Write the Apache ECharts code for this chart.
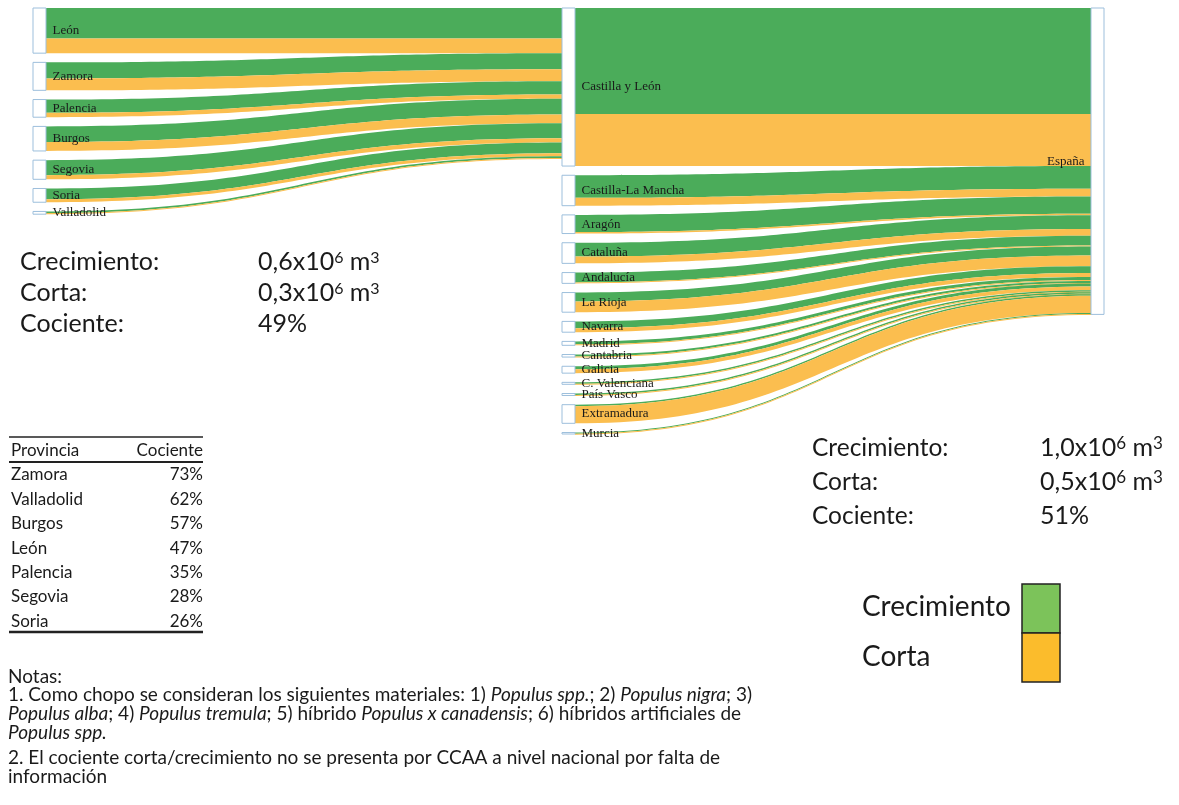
<!DOCTYPE html>
<html>
<head>
<meta charset="utf-8">
<script src="https://cdn.jsdelivr.net/npm/echarts@6/dist/echarts.min.js"></script>
<style>
  html, body { margin: 0; padding: 0; background: #fff; }
  #chart { width: 1179px; height: 805px; }
</style>
</head>
<body>
<div id="chart"></div>
<script>
// provincias de Castilla y León -> Castilla y León
const provincias = ['León', 'Zamora', 'Palencia', 'Burgos', 'Segovia', 'Soria', 'Valladolid'];
const provCrecimiento = [31, 16.5, 13.5, 16, 15.3, 11, 1.7];
const provCorta = [15, 12, 4.5, 9, 4.2, 3, 1.1];

// CCAA -> España
const ccaa = ['Castilla y León', 'Castilla-La Mancha', 'Aragón', 'Cataluña', 'Andalucía', 'La Rioja',
  'Navarra', 'Madrid', 'Cantabria', 'Galicia', 'C. Valenciana', 'País Vasco', 'Extramadura', 'Murcia'];
const ccaaCrecimiento = [108, 23, 17.5, 14, 10, 9, 7, 3, 2, 3, 1.5, 1.5, 1.5, 1.2];
const ccaaCorta = [53, 8, 1.5, 7, 1, 11, 4, 1, 0.6, 4, 0.5, 0.5, 17.5, 0.3];

// tabla de cocientes por provincia
const tablaProvincia = ['Zamora', 'Valladolid', 'Burgos', 'León', 'Palencia', 'Segovia', 'Soria'];
const tablaCociente = ['73%', '62%', '57%', '47%', '35%', '28%', '26%'];

const resumenEtiquetas = ['Crecimiento:', 'Corta:', 'Cociente:'];
const resumenCyL = ['0,6x10{s|6} m{s|3}', '0,3x10{s|6} m{s|3}', '49%'];
const resumenEspana = ['1,0x10{s|6} m{s|3}', '0,5x10{s|6} m{s|3}', '51%'];

const VERDE = '#4bac5a';
const NARANJA = '#fbbe4f';
const SANS = 'Lato, "Noto Sans", sans-serif';

const nodes = [];
provincias.forEach(p => nodes.push({ name: p, depth: 0 }));
ccaa.forEach(c => nodes.push({ name: c, depth: 1 }));
nodes.push({ name: 'España', depth: 2, label: { position: 'left' } });

const links = [];
provincias.forEach((p, i) => {
  links.push({ source: p, target: 'Castilla y León', value: provCrecimiento[i], lineStyle: { color: VERDE } });
  links.push({ source: p, target: 'Castilla y León', value: provCorta[i], lineStyle: { color: NARANJA } });
});
ccaa.forEach((c, i) => {
  links.push({ source: c, target: 'España', value: ccaaCrecimiento[i], lineStyle: { color: VERDE } });
  links.push({ source: c, target: 'España', value: ccaaCorta[i], lineStyle: { color: NARANJA } });
});

const graphic = [];
function texto(x, y, str, size, extra) {
  graphic.push({
    type: 'text', x: x, y: y, silent: true,
    style: Object.assign({
      text: str, fontFamily: SANS, fontSize: size, fill: '#1a1a1a',
      align: 'left', verticalAlign: 'middle'
    }, extra || {})
  });
}
function linea(x1, y1, x2, y2, w) {
  graphic.push({
    type: 'line', silent: true,
    shape: { x1: x1, y1: y1, x2: x2, y2: y2 },
    style: { stroke: '#222', lineWidth: w }
  });
}
function sup(size) {
  return { s: { fontFamily: SANS, fontSize: size, fill: '#1a1a1a', verticalAlign: 'top' } };
}

// resumen Castilla y León
resumenEtiquetas.forEach((t, i) => {
  texto(20, 262 + i * 31, t, 25);
  texto(258, 262 + i * 31, resumenCyL[i], 25, { rich: sup(16) });
});
// resumen España
resumenEtiquetas.forEach((t, i) => {
  texto(812, 448 + i * 34, t, 24.5);
  texto(1040, 448 + i * 34, resumenEspana[i], 25, { rich: sup(17) });
});

// tabla
linea(9, 437, 203, 437, 1.5);
texto(11, 451, 'Provincia', 17);
texto(203, 451, 'Cociente', 17, { align: 'right' });
linea(9, 462, 203, 462, 2);
tablaProvincia.forEach((p, i) => {
  texto(11, 475 + i * 24.4, p, 17);
  texto(203, 475 + i * 24.4, tablaCociente[i], 17, { align: 'right' });
});
linea(9, 632, 203, 632, 2.5);

// leyenda
graphic.push({ type: 'rect', silent: true, shape: { x: 1022, y: 584, width: 38, height: 49 },
  style: { fill: '#7cc35a', stroke: '#222', lineWidth: 1.5 } });
graphic.push({ type: 'rect', silent: true, shape: { x: 1022, y: 633, width: 38, height: 49 },
  style: { fill: '#fbbc2c', stroke: '#222', lineWidth: 1.5 } });
texto(862, 607, 'Crecimiento', 28);
texto(862, 657, 'Corta', 28);

// notas
const richNotas = { i: { fontStyle: 'italic', fontFamily: SANS, fontSize: 19, fill: '#1a1a1a' } };
const notas = [
  [677, 'Notas:'],
  [695, '1. Como chopo se consideran los siguientes materiales: 1) {i|Populus spp.}; 2) {i|Populus nigra}; 3)'],
  [714, '{i|Populus alba}; 4) {i|Populus tremula}; 5) híbrido {i|Populus x canadensis}; 6) híbridos artificiales de'],
  [733, '{i|Populus spp.}'],
  [758, '2. El cociente corta/crecimiento no se presenta por CCAA a nivel nacional por falta de'],
  [777, 'información']
];
notas.forEach(n => texto(8, n[0], n[1], 19, { rich: richNotas }));

const chart = echarts.init(document.getElementById('chart'));
chart.setOption({
  backgroundColor: '#fff',
  animation: false,
  series: [{
    type: 'sankey',
    left: 33,
    right: 75,
    top: 8,
    height: 426,
    nodeWidth: 13,
    nodeGap: 9.2,
    layoutIterations: 0,
    draggable: false,
    emphasis: { disabled: true },
    itemStyle: { color: '#fff', borderColor: '#9dbfdc', borderWidth: 1 },
    lineStyle: { curveness: 0.5, opacity: 1 },
    label: {
      position: 'right', distance: 6,
      fontFamily: '"Liberation Serif", serif', fontSize: 13, color: '#1a1a1a'
    },
    data: nodes,
    links: links
  }],
  graphic: graphic
});
</script>
</body>
</html>
